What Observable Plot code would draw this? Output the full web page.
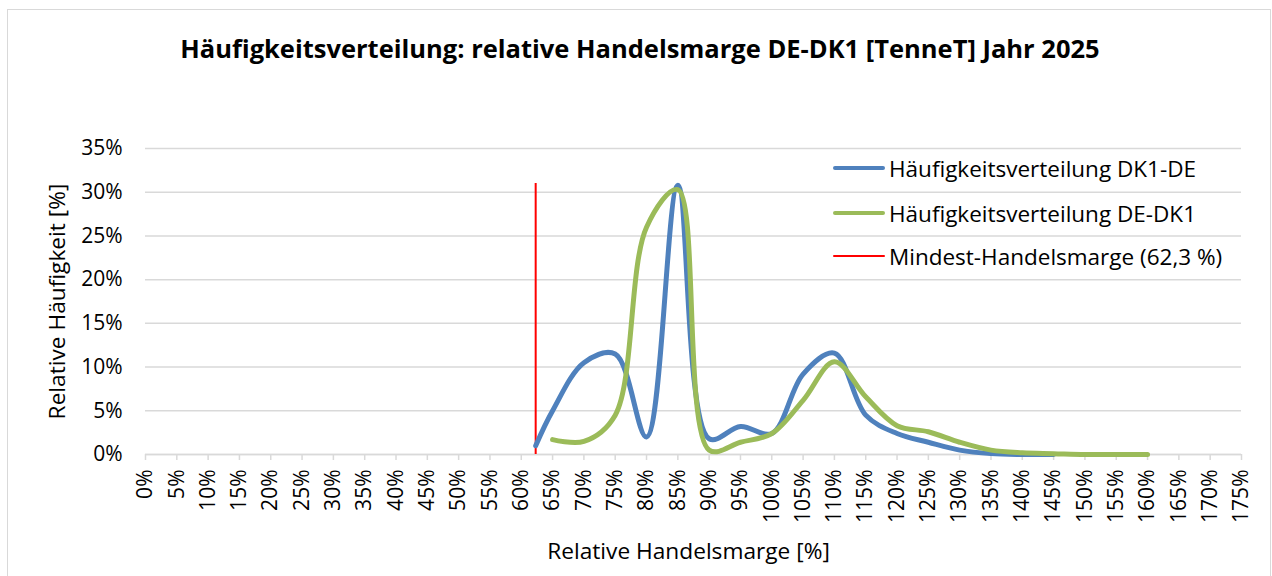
<!DOCTYPE html>
<html>
<head>
<meta charset="utf-8">
<script src="https://cdn.jsdelivr.net/npm/d3@7"></script>
<script src="https://cdn.jsdelivr.net/npm/@observablehq/plot@0.6"></script>
<style>
  body { margin: 0; background: #fff; }
  #wrap { position: relative; width: 1272px; height: 576px; overflow: hidden; background: #fff; font-family: "Open Sans", sans-serif; }
  #frame { position: absolute; left: 7px; top: 9px; width: 1264px; height: 620px; border: 1.5px solid #D9D9D9; box-sizing: border-box; pointer-events: none; }
  #title { position: absolute; left: 0; top: 33px; width: 1280px; text-align: center; font-size: 25.5px; line-height: 30px; font-weight: bold; color: #000; }
  #chart { position: absolute; left: 0; top: 100px; }
  #legend { position: absolute; left: 833px; top: 0; font-size: 22.5px; color: #000; }
  .row { position: absolute; left: 0; height: 30px; display: flex; align-items: center; white-space: nowrap; }
  .sw { width: 52px; margin-right: 4px; border-radius: 3px; }
</style>
</head>
<body>
<div id="wrap">
  <div id="title"></div>
  <div id="chart"></div>
  <div id="legend"></div>
  <div id="frame"></div>
</div>
<script>
// ---- data ----
const titleText = "Häufigkeitsverteilung: relative Handelsmarge DE-DK1 [TenneT] Jahr 2025";
const xLabel = "Relative Handelsmarge [%]";
const yLabel = "Relative Häufigkeit [%]";

const xTicks = [0,5,10,15,20,25,30,35,40,45,50,55,60,65,70,75,80,85,90,95,100,105,110,115,120,125,130,135,140,145,150,155,160,165,170,175];
const yTicks = [0,5,10,15,20,25,30,35];

const seriesNames = ["Häufigkeitsverteilung DK1-DE", "Häufigkeitsverteilung DE-DK1", "Mindest-Handelsmarge (62,3 %)"];

const dk1deX = [62.3, 65, 70, 75, 80, 85, 90, 95, 100, 105, 110, 115, 120, 125, 130, 135, 140, 145];
const dk1deY = [1.0, 5.0, 10.5, 11.5, 2.0, 30.8, 1.8, 3.2, 2.4, 9.2, 11.6, 4.5, 2.4, 1.4, 0.5, 0.1, 0.0, 0.0];

const dedk1X = [65, 70, 75, 80, 85, 90, 95, 100, 105, 110, 115, 120, 125, 130, 135, 140, 145, 150, 155, 160];
const dedk1Y = [1.7, 1.5, 4.5, 26.0, 30.3, 0.5, 1.4, 2.4, 6.2, 10.6, 6.6, 3.3, 2.6, 1.4, 0.5, 0.2, 0.1, 0.0, 0.0, 0.0];

const minMarginX = 62.3;
const minMarginTop = 31;

const colors = ["#4F81BD", "#9BBB59", "#FF0000"];

// ---- build ----
const blue = dk1deX.map((x, i) => ({x, y: dk1deY[i]}));
const green = dedk1X.map((x, i) => ({x, y: dedk1Y[i]}));

document.getElementById("title").textContent = titleText;

const tickFont = 21;
const labelFont = 22.7;
const chart = Plot.plot({
  width: 1272,
  height: 476,
  marginLeft: 145,
  marginRight: 31,
  marginTop: 48,
  marginBottom: 122,
  style: { fontFamily: "Open Sans, sans-serif", fontSize: tickFont + "px", color: "#000", background: "transparent", overflow: "visible" },
  x: { domain: [0, 175], type: "linear" },
  y: { domain: [0, 35], type: "linear" },
  marks: [
    Plot.gridY(yTicks, { stroke: "#D9D9D9", strokeOpacity: 1, strokeWidth: 1.5 }),
    Plot.axisY(yTicks, { tickSize: 0, tickPadding: 23, tickFormat: d => d + "%", label: null, fontSize: tickFont }),
    Plot.axisX(xTicks, { tickSize: 6, tickPadding: 9, tickRotate: -90, tickFormat: d => d + "%", label: null, stroke: "#D9D9D9", strokeWidth: 1.5, fill: "#000", fontSize: tickFont }),
    Plot.ruleY([0], { stroke: "#D9D9D9", strokeWidth: 1.5 }),
    Plot.ruleX([minMarginX], { y1: 0, y2: minMarginTop, stroke: colors[2], strokeWidth: 2 }),
    Plot.line(blue, { x: "x", y: "y", curve: "catmull-rom", stroke: colors[0], strokeWidth: 5, strokeLinecap: "round", strokeLinejoin: "round" }),
    Plot.line(green, { x: "x", y: "y", curve: "catmull-rom", stroke: colors[1], strokeWidth: 5, strokeLinecap: "round", strokeLinejoin: "round" }),
    Plot.text([xLabel], { frameAnchor: "bottom", textAnchor: "middle", lineAnchor: "middle", dy: 97, dx: -5, fontSize: labelFont, fill: "#000" }),
    Plot.text([yLabel], { frameAnchor: "left", textAnchor: "middle", lineAnchor: "middle", dx: -88, rotate: -90, fontSize: labelFont, fill: "#000" })
  ]
});
document.getElementById("chart").appendChild(chart);

// legend
const legend = document.getElementById("legend");
const rowCenters = [168, 213, 256];
const swH = [4.5, 4.5, 2];
seriesNames.forEach((name, i) => {
  const row = document.createElement("div");
  row.className = "row";
  row.style.top = (rowCenters[i] - 15) + "px";
  const sw = document.createElement("div");
  sw.className = "sw";
  sw.style.height = swH[i] + "px";
  sw.style.background = colors[i];
  const t = document.createElement("span");
  t.textContent = name;
  row.appendChild(sw);
  row.appendChild(t);
  legend.appendChild(row);
});
</script>
</body>
</html>
